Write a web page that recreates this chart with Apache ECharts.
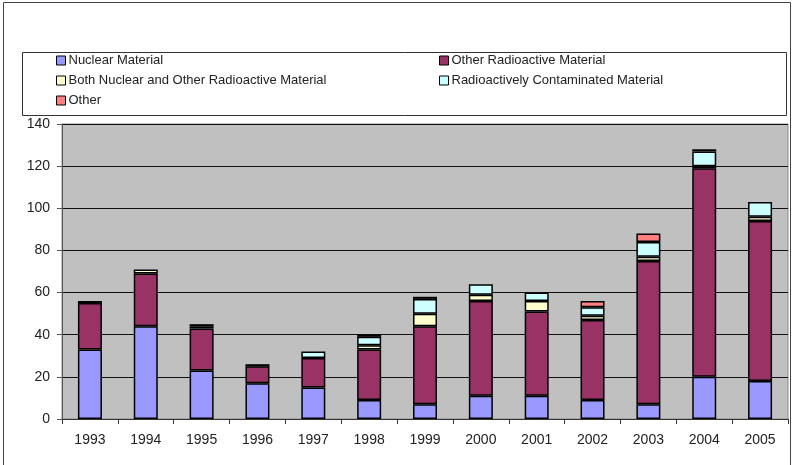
<!DOCTYPE html>
<html>
<head>
<meta charset="utf-8">
<script src="https://cdn.jsdelivr.net/npm/echarts@6/dist/echarts.min.js"></script>
<style>
  html, body { margin: 0; padding: 0; background: #fff; }
  #chart { width: 794px; height: 465px; }
</style>
</head>
<body>
<div id="chart"></div>
<script>
// years on the x axis
var years = ['1993', '1994', '1995', '1996', '1997', '1998', '1999',
             '2000', '2001', '2002', '2003', '2004', '2005'];

// incident counts per category
var nuclear      = [33, 44, 23, 17, 15,  9,  7, 11, 11,  9,  7, 20, 18];
var otherRad     = [22, 25, 20,  8, 14, 24, 37, 45, 40, 38, 68, 99, 76];
var both         = [ 1,  2,  1,  1,  0,  2,  6,  3,  5,  2,  2,  1,  2];
var contaminated = [ 0,  0,  1,  0,  3,  4,  7,  5,  4,  4,  7,  7,  7];
var other        = [ 0,  0,  0,  0,  0,  1,  1,  0,  0,  3,  4,  1,  0];

var yTicks = [0, 20, 40, 60, 80, 100, 120, 140];

var names = ['Nuclear Material', 'Other Radioactive Material',
             'Both Nuclear and Other Radioactive Material',
             'Radioactively Contaminated Material', 'Other'];
var colors = ['#9999FF', '#993366', '#FFFFCC', '#CCFFFF', '#FF8080'];
var values = [nuclear, otherRad, both, contaminated, other];

var font = 'Arial, "Liberation Sans", sans-serif';

// one legend per item so they can sit in the two column layout
var legendSpots = [[56, 54], [439, 54], [56, 74], [439, 74], [56, 94]];
var legends = names.map(function (n, i) {
    return {
        data: [n],
        left: legendSpots[i][0],
        top: legendSpots[i][1],
        padding: 0,
        itemWidth: 9,
        itemHeight: 9,
        itemGap: 4,
        icon: 'rect',
        selectedMode: false,
        itemStyle: { borderColor: '#000', borderWidth: 1 },
        textStyle: { fontFamily: font, fontSize: 13, color: '#222', padding: [0, 0, 0, -2] }
    };
});

// zero values are skipped so they do not draw an empty outline
var series = names.map(function (n, i) {
    return {
        name: n,
        type: 'bar',
        stack: 'total',
        barWidth: 24,
        data: values[i].map(function (v) { return v === 0 ? '-' : v; }),
        itemStyle: { color: colors[i], borderColor: '#000', borderWidth: 1.5 }
    };
});

var chart = echarts.init(document.getElementById('chart'));
chart.setOption({
    animation: false,
    backgroundColor: '#fff',
    legend: legends,
    grid: {
        left: 62, right: 6, top: 124, bottom: 46,
        show: true,
        backgroundColor: '#C0C0C0',
        borderColor: '#8a8a8a',
        borderWidth: 1
    },
    xAxis: {
        type: 'category',
        data: years,
        axisLine: { lineStyle: { color: '#333', width: 1 } },
        axisTick: { show: true, length: 5, lineStyle: { color: '#333' } },
        axisLabel: { fontFamily: font, fontSize: 14, color: '#222', margin: 14 }
    },
    yAxis: {
        type: 'value',
        min: yTicks[0],
        max: yTicks[yTicks.length - 1],
        interval: 20,
        axisLine: { show: true, lineStyle: { color: '#555', width: 1 } },
        axisTick: { show: true, length: 5, lineStyle: { color: '#555' } },
        axisLabel: { fontFamily: font, fontSize: 14, color: '#222', margin: 12 },
        splitLine: { show: true, lineStyle: { color: '#111', width: 1 } }
    },
    graphic: [
        {   // outer frame
            type: 'rect', silent: true, z: -1,
            shape: { x: 3.5, y: 2.5, width: 787, height: 480 },
            style: { fill: null, stroke: '#444', lineWidth: 1 }
        },
        {   // legend box
            type: 'rect', silent: true, z: -1,
            shape: { x: 22.5, y: 52.5, width: 764, height: 63 },
            style: { fill: '#fff', stroke: '#333', lineWidth: 1 }
        }
    ],
    series: series
});
</script>
</body>
</html>
